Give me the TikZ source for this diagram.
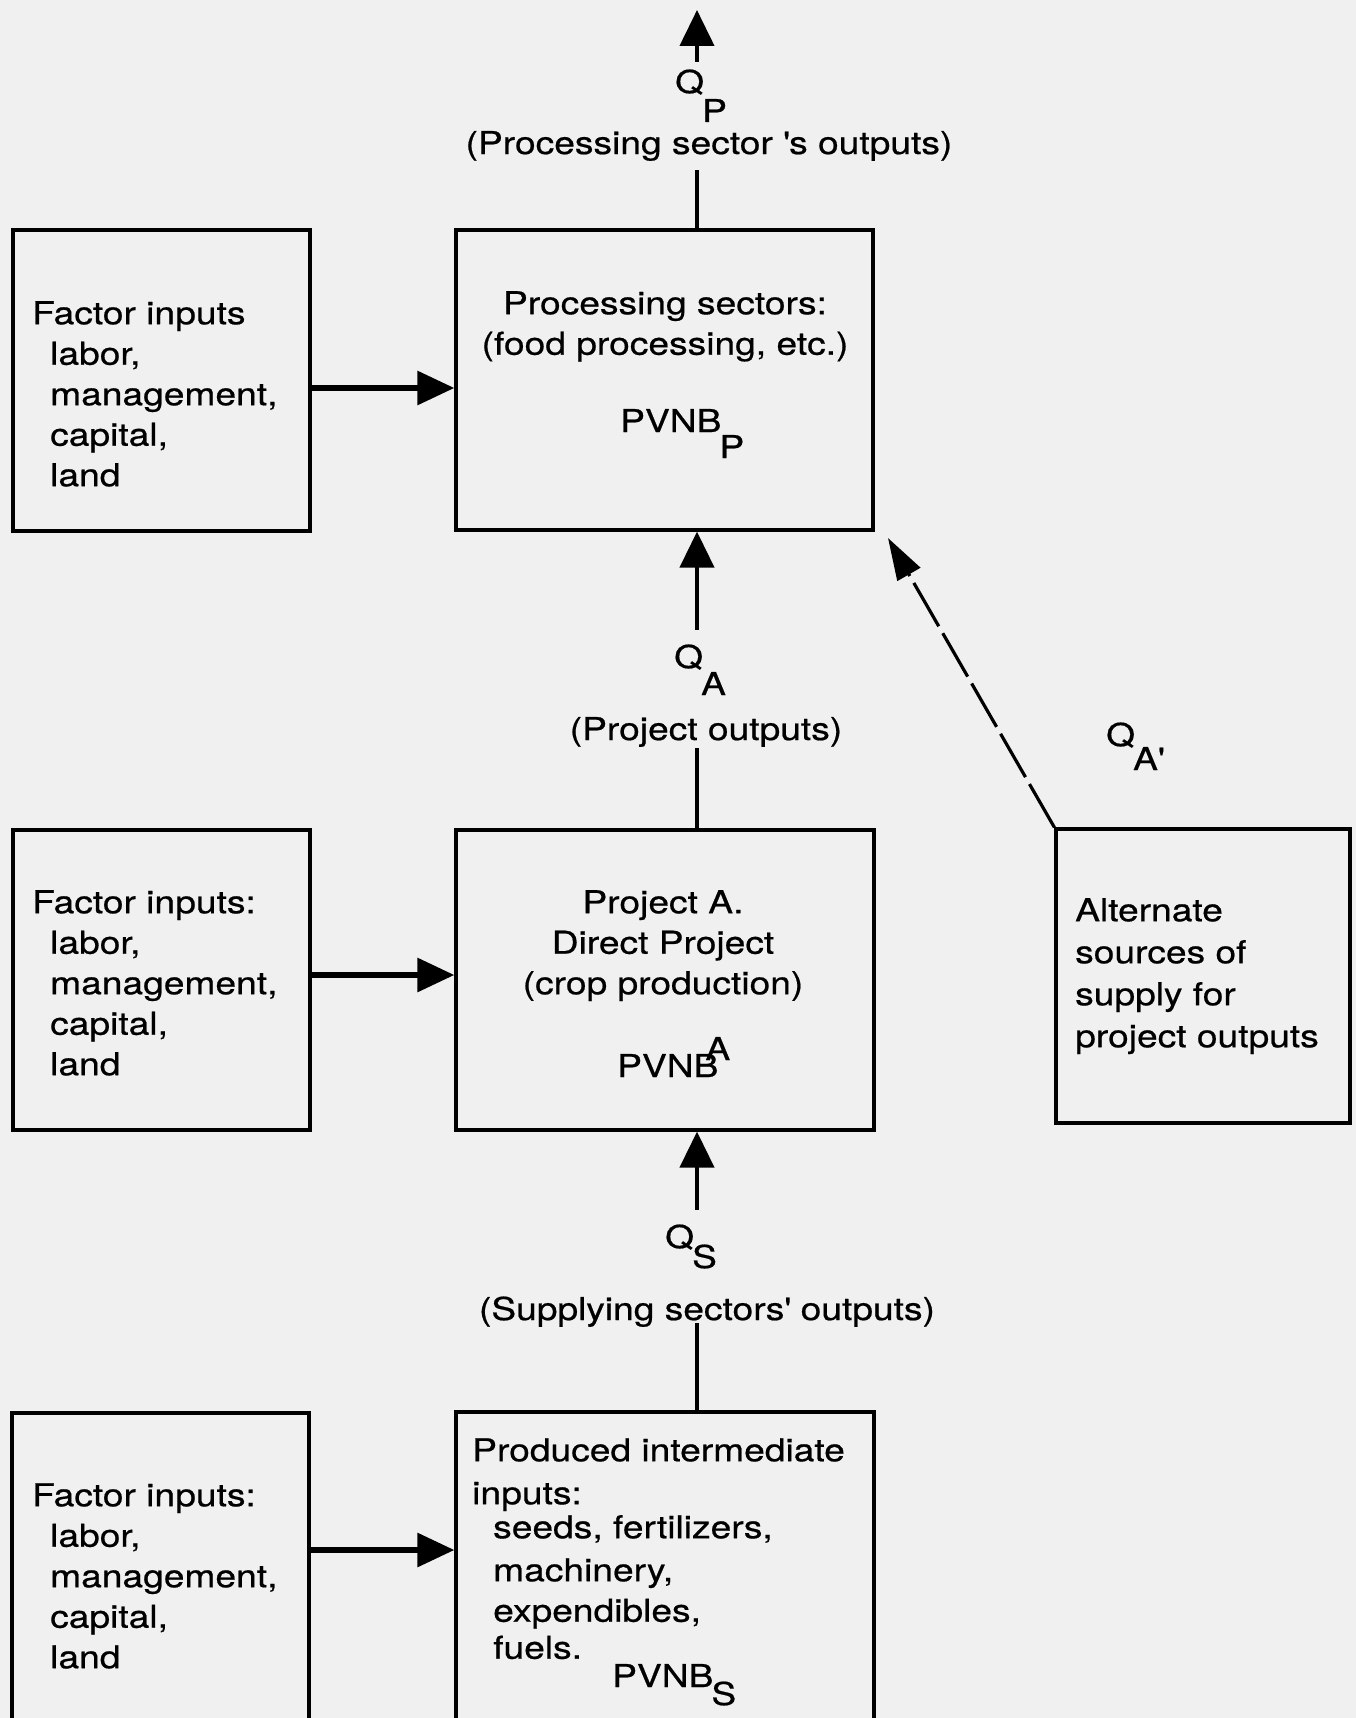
\documentclass[tikz,border=0pt]{standalone}
\usepackage{fontspec}
\setmainfont{TeX Gyre Heros}[FakeStretch=1.18,FakeBold=0.6]
\usetikzlibrary{arrows.meta}
\definecolor{paper}{RGB}{240,240,240}
\newcommand\dn[2][26pt]{\kern-2pt\raisebox{-#1}{#2}}
\newcommand\upr[2][17pt]{\kern-13pt\raisebox{#1}{#2}}
\begin{document}
\begin{tikzpicture}[x=1pt,y=-1pt,
  box/.style={draw, line width=3.2pt, inner sep=0pt},
  txt/.style={inner sep=0pt, font=\fontsize{31.5}{40.5}\selectfont},
  vline/.style={line width=4.2pt},
  varrow/.style={line width=4.2pt, -{Triangle[length=36pt,width=34pt]}},
  harrow/.style={line width=6pt, -{Triangle[length=37pt,width=33pt]}},
  altarrow/.style={line width=3.2pt, dash pattern=on 50pt off 8pt, -{Triangle[length=42pt,width=26pt]}}
]
\useasboundingbox (0,0) rectangle (1356,1718);
\begin{scope}
\clip (0,0) rectangle (1356,1718);
\fill[paper] (0,0) rectangle (1356,1718);

% boxes
\node[box, minimum width=297pt, minimum height=301pt] (F1) at (161.5,380.5) {};
\node[box, minimum width=417pt, minimum height=300pt] (P) at (664.5,380) {};
\node[box, minimum width=297pt, minimum height=300pt] (F2) at (161.5,980) {};
\node[box, minimum width=418pt, minimum height=300pt] (A) at (665,980) {};
\node[box, minimum width=294pt, minimum height=294pt] (Alt) at (1203,976) {};
\node[box, minimum width=297pt, minimum height=360pt] (F3) at (160.5,1593) {};
\node[box, minimum width=418pt, minimum height=360pt] (S) at (665,1592) {};

% box texts
\node[txt, anchor=north west, align=left] (tF1) at (32,294)
  {\rule{0pt}{30pt}Factor inputs\\\hspace*{18pt}labor,\\\hspace*{18pt}management,\\\hspace*{18pt}capital,\\\hspace*{18pt}land};
\node[txt, anchor=north west, align=left] (tF2) at (32,883)
  {\rule{0pt}{30pt}Factor inputs:\\\hspace*{18pt}labor,\\\hspace*{18pt}management,\\\hspace*{18pt}capital,\\\hspace*{18pt}land};
\node[txt, anchor=north west, align=left] (tF3) at (32,1476)
  {\rule{0pt}{30pt}Factor inputs:\\\hspace*{18pt}labor,\\\hspace*{18pt}management,\\\hspace*{18pt}capital,\\\hspace*{18pt}land};

\node[txt, anchor=north, align=center] (tP) at (665,284)
  {\rule{0pt}{30pt}Processing sectors:\\(food processing, etc.)};
\node[txt, anchor=base west] (vP) at (620,432) {PVNB\dn[26pt]{P}};

\node[txt, anchor=north, align=center] (tA) at (663,883)
  {\rule{0pt}{30pt}Project A.\\Direct Project\\(crop production)};
\node[txt, anchor=base west] (vA) at (617,1077) {PVNB\upr{A}};

\node[txt, anchor=north west, align=left] (tS) at (472,1431)
  {\rule{0pt}{30pt}Produced intermediate\\[2.5pt]inputs:\\[-6.5pt]\hspace*{21pt}seeds, fertilizers,\\[2.5pt]\hspace*{21pt}machinery,\\\hspace*{21pt}expendibles,\\[-3.5pt]\hspace*{21pt}fuels.};
\node[txt, anchor=base west] (vS) at (612,1687) {PVNB\dn[18pt]{S}};

\node[txt, anchor=north west, align=left] (tAlt) at (1075,891)
  {\rule{0pt}{30pt}Alternate\\[1.5pt]sources of\\[1.5pt]supply for\\[1.5pt]project outputs};

% flow labels
\node[txt, anchor=base west] (qP) at (675,93) {Q\dn[29pt]{P}};
\node[txt, anchor=base] (qPt) at (709,154) {(Processing sector \textquotesingle s outputs)};
\node[txt, anchor=base west] (qA) at (674,668) {Q\dn[27pt]{A}};
\node[txt, anchor=base] (qAt) at (706,740) {(Project outputs)};
\node[txt, anchor=base west] (qS) at (665,1248) {Q\dn[20pt]{S}};
\node[txt, anchor=base] (qSt) at (707,1320) {(Supplying sectors\textquotesingle{} outputs)};
\node[txt, anchor=base west] (qA2) at (1106,746) {Q\dn[24pt]{A\textquotesingle}};

% coordinates
\coordinate (h1) at (0,388);
\coordinate (h2) at (0,975);
\coordinate (h3) at (0,1550);
\coordinate (gP1) at (697,170);
\coordinate (gP2) at (697,62);
\coordinate (tipP) at (697,10);
\coordinate (gA1) at (697,748);
\coordinate (gA2) at (697,630);
\coordinate (gS1) at (697,1323);
\coordinate (gS2) at (697,1210);
\coordinate (tipAlt) at (888,538);

% connectors
\draw[vline] (gP1 |- P.north) -- (gP1);
\draw[varrow] (gP2) -- (tipP);
\draw[vline] (gA1 |- A.north) -- (gA1);
\draw[varrow] (gA2) -- (gA2 |- P.south);
\draw[vline] (gS1 |- S.north) -- (gS1);
\draw[varrow] (gS2) -- (gS2 |- A.south);
\draw[harrow] (F1.east |- h1) -- (P.west |- h1);
\draw[harrow] (F2.east |- h2) -- (A.west |- h2);
\draw[harrow] (F3.east |- h3) -- (S.west |- h3);
\draw[altarrow] (Alt.north west) -- (tipAlt);
\end{scope}
\end{tikzpicture}
\end{document}
